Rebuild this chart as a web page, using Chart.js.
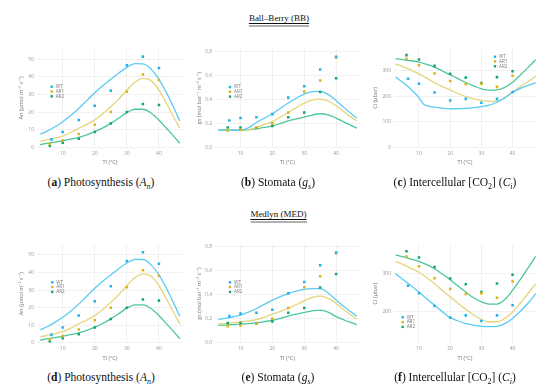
<!DOCTYPE html>
<html><head><meta charset="utf-8">
<script src="https://cdn.jsdelivr.net/npm/chart.js@4.4.0/dist/chart.umd.min.js"></script>
<style>
html,body{margin:0;padding:0;background:#fff;width:550px;height:392px;overflow:hidden;}
body{position:relative;font-family:"Liberation Serif","DejaVu Serif",serif;color:#111;}
canvas{position:absolute;}
.hd{position:absolute;font-size:9px;line-height:10px;white-space:nowrap;transform:translateX(-50%);text-decoration:underline;text-underline-offset:1.5px;text-decoration-thickness:0.6px;}
.hd:after{content:"";position:absolute;left:0;right:0;bottom:-3.5px;height:1.4px;background:#b0b0b0;}
.cap{position:absolute;font-size:11.5px;line-height:13px;white-space:nowrap;transform:translateX(-50%);}
.cap sub{font-size:8px;}
</style>
</head><body>
<div class="hd" style="left:279px;top:13px;">Ball–Berry (BB)</div>
<div class="hd" style="left:278.5px;top:209px;">Medlyn (MED)</div>
<canvas id="pa" width="190" height="132" style="left:0px;top:38px"></canvas>
<canvas id="pb" width="180" height="132" style="left:185px;top:38px"></canvas>
<canvas id="pc" width="188" height="132" style="left:362px;top:38px"></canvas>
<canvas id="pd" width="190" height="132" style="left:0px;top:233px"></canvas>
<canvas id="pe" width="180" height="132" style="left:185px;top:233px"></canvas>
<canvas id="pf" width="188" height="132" style="left:362px;top:233px"></canvas>
<div class="cap" style="left:101px;top:176px;">(<b>a</b>) Photosynthesis (<i>A</i><sub><i>n</i></sub>)</div>
<div class="cap" style="left:278px;top:176px;">(<b>b</b>) Stomata (<i>g</i><sub><i>s</i></sub>)</div>
<div class="cap" style="left:455px;top:176px;">(<b>c</b>) Intercellular [CO<sub>2</sub>] (<i>C</i><sub><i>i</i></sub>)</div>
<div class="cap" style="left:101px;top:370.5px;">(<b>d</b>) Photosynthesis (<i>A</i><sub><i>n</i></sub>)</div>
<div class="cap" style="left:278px;top:370.5px;">(<b>e</b>) Stomata (<i>g</i><sub><i>s</i></sub>)</div>
<div class="cap" style="left:455px;top:370.5px;">(<b>f</b>) Intercellular [CO<sub>2</sub>] (<i>C</i><sub><i>i</i></sub>)</div>
<script>
// ---------- data ----------
const seriesNames = ['WT', 'AR1', 'AR2'];
const xTicks = [10, 20, 30, 40];
const anTicks = [0, 10, 20, 30, 40, 50];
const gsTicks = [0, 0.2, 0.4, 0.6, 0.8];
const ciTicksBB = [0, 100, 200, 300];
const ciTicksMED = [200, 300];

// observed leaf temperatures (°C)
const tObsWT = [6.5, 10, 15, 20, 25, 30, 35, 40];
const tObsAR1 = [6.0, 10, 15, 20, 25, 30, 35, 40];
const tObsAR2 = [6.0, 10, 15, 20, 25, 30, 35, 40];

// observed An
const anObsWT = [4.5, 8.7, 15.5, 23.6, 32.2, 46.6, 51.5, 45.0];
const anObsAR1 = [1.9, 3.8, 7.6, 12.8, 20.0, 31.6, 41.3, 38.2];
const anObsAR2 = [0.7, 2.6, 4.9, 8.7, 13.6, 20.0, 24.6, 24.0];
// observed gs
const gsObsWT = [0.223, 0.243, 0.25, 0.276, 0.413, 0.507, 0.647, 0.753];
const gsObsAR1 = [0.139, 0.145, 0.164, 0.2, 0.29, 0.463, 0.555, 0.747];
const gsObsAR2 = [0.164, 0.164, 0.16, 0.178, 0.25, 0.29, 0.46, 0.574];
// observed Ci
const ciObsWT = [268, 248, 214, 183, 189, 174, 189, 216];
const ciObsAR1 = [346, 320, 288, 259, 246, 248, 236, 279];
const ciObsAR2 = [360, 343, 318, 287, 272, 251, 274, 297];

// model temperatures
const tMod = [3, 5, 7.5, 10, 12.5, 15, 17.5, 20, 22.5, 25, 27.5, 30, 32.5, 35, 37.5, 40, 42.5, 44.5, 46.5];
const tModCi = [2.5, 5, 7.5, 10, 12.5, 15, 17.5, 20, 22.5, 25, 27.5, 30, 32.5, 35, 37.5, 40, 42.5, 45, 47.4];
const tModCiBBWT = [2.5, 5, 7.5, 10, 11.5, 13, 15, 17.5, 20, 22.5, 25, 27.5, 30, 32.5, 35, 37.5, 40, 42.5, 45, 47.4];

// modelled An (same in BB and MED)
const anModWT = [7.4, 9.0, 11.5, 14.5, 18.0, 22.0, 26.5, 31.0, 35.0, 38.6, 42.2, 45.4, 47.5, 47.4, 44.5, 38.6, 30.5, 23.0, 15.0];
const anModAR1 = [3.4, 4.2, 5.2, 6.4, 8.4, 10.8, 13.0, 15.5, 19.0, 23.0, 27.5, 32.5, 37.0, 39.2, 38.0, 32.5, 24.5, 17.5, 10.8];
const anModAR2 = [1.5, 2.2, 2.9, 3.8, 4.6, 5.7, 7.1, 8.9, 11.0, 13.6, 16.6, 19.7, 21.6, 21.6, 19.5, 15.5, 10.5, 6.5, 2.3];

// modelled gs, Ball–Berry
const gsBBWT = [0.142, 0.142, 0.142, 0.142, 0.162, 0.206, 0.243, 0.279, 0.323, 0.368, 0.408, 0.443, 0.463, 0.465, 0.44, 0.39, 0.33, 0.285, 0.243];
const gsBBAR1 = [0.142, 0.142, 0.142, 0.142, 0.146, 0.167, 0.19, 0.214, 0.25, 0.29, 0.33, 0.368, 0.392, 0.40, 0.385, 0.345, 0.295, 0.255, 0.22];
const gsBBAR2 = [0.142, 0.142, 0.142, 0.142, 0.145, 0.155, 0.165, 0.178, 0.198, 0.22, 0.236, 0.25, 0.268, 0.279, 0.27, 0.243, 0.21, 0.185, 0.159];
// modelled gs, Medlyn
const gsMEDWT = [0.194, 0.203, 0.215, 0.23, 0.255, 0.286, 0.32, 0.356, 0.385, 0.41, 0.43, 0.445, 0.452, 0.452, 0.415, 0.356, 0.3, 0.26, 0.222];
const gsMEDAR1 = [0.155, 0.16, 0.166, 0.174, 0.183, 0.194, 0.214, 0.238, 0.262, 0.286, 0.318, 0.35, 0.378, 0.389, 0.37, 0.328, 0.275, 0.235, 0.2];
const gsMEDAR2 = [0.146, 0.148, 0.151, 0.155, 0.16, 0.166, 0.176, 0.188, 0.204, 0.222, 0.238, 0.253, 0.266, 0.272, 0.255, 0.218, 0.19, 0.17, 0.152];

// modelled Ci, Ball–Berry
const ciBBWT = [274, 252, 226, 194, 168, 161, 157, 153, 150, 151, 152, 155, 159, 165, 176, 193, 214, 230, 242, 252];
const ciBBAR1 = [325, 314, 301, 287, 270, 252, 237, 224, 210, 198, 189, 183, 179, 180, 194, 216, 237, 257, 278];
const ciBBAR2 = [346, 342, 338, 333, 324, 313, 298, 283, 268, 253, 240, 228, 223, 224, 234, 254, 282, 312, 342];
// modelled Ci, Medlyn
const ciMEDWT = [300, 284, 268, 251, 233, 216, 199, 183, 174, 167, 163, 160, 159, 160, 167, 181, 200, 222, 247];
const ciMEDAR1 = [333, 324, 314, 304, 289, 273, 255, 238, 221, 205, 190, 178, 172, 172, 181, 198, 222, 248, 273];
const ciMEDAR2 = [350, 345, 339, 333, 324, 313, 299, 284, 267, 251, 236, 225, 219, 219, 231, 256, 285, 316, 346];

// ---------- styles ----------
const pointColors = ['#1db4ee', '#d9b614', '#13a873'];
const lineColors = ['#5acbf3', '#e6d47a', '#4cc69b'];
const tickFont = {family: 'Open Sans', size: 5};
const titleFont = {family: 'Open Sans', size: 5.5};

const pairs = (xs, ys) => xs.map((x, i) => ({x: x, y: ys[i]}));

const insideLegend = {
  id: 'insideLegend',
  afterDatasetsDraw(chart, args, o) {
    if (!o || o.dx === undefined) return;
    const {ctx, chartArea} = chart;
    ctx.save();
    ctx.font = '4.6px "Open Sans"';
    ctx.textBaseline = 'middle';
    seriesNames.forEach((name, i) => {
      const x = chartArea.left + o.dx, y = chartArea.top + o.dy + i * 4.8;
      ctx.fillStyle = pointColors[i];
      ctx.fillRect(x - 1.2, y - 1.2, 2.4, 2.4);
      ctx.fillStyle = '#777';
      ctx.fillText(name, x + 4, y);
    });
    ctx.restore();
  }
};

function makePanel(id, c) {
  const ds = [];
  c.obs.forEach((o, i) => ds.push({
    type: 'scatter', label: seriesNames[i], data: pairs(o[0], o[1]),
    pointStyle: 'rect', pointRadius: 1.8, backgroundColor: pointColors[i], borderWidth: 0
  }));
  c.mod.forEach((m, i) => ds.push({
    type: 'line', label: seriesNames[i] + ' model', data: pairs(m[0], m[1]),
    borderColor: lineColors[i], borderWidth: 1.3, pointRadius: 0, fill: false,
    cubicInterpolationMode: 'monotone'
  }));
  new Chart(document.getElementById(id), {
    type: 'scatter',
    data: {datasets: ds},
    plugins: [insideLegend],
    options: {
      responsive: false, animation: false, devicePixelRatio: 1,
      layout: {padding: {left: 0, top: c.padTop, right: c.padRight, bottom: 0}},
      plugins: {legend: {display: false}, tooltip: {enabled: false}, insideLegend: c.legend},
      scales: {
        x: {
          type: 'linear', min: 2, max: 47.5,
          afterBuildTicks: s => { s.ticks = xTicks.map(v => ({value: v})); },
          afterFit: s => { s.height = c.xh; },
          grid: {color: '#ebebeb', lineWidth: 0.7, drawTicks: false},
          border: {display: false},
          ticks: {font: tickFont, color: '#999', padding: 3.2, maxRotation: 0, autoSkip: false},
          title: {display: true, text: 'Tl (°C)', font: titleFont, color: '#777', padding: {top: 0, bottom: c.xtp}}
        },
        y: {
          type: 'linear', min: c.ymin, max: c.ymax,
          afterBuildTicks: s => { s.ticks = c.yt.map(v => ({value: v})); },
          afterFit: s => { s.width = c.yw; },
          grid: {color: '#ebebeb', lineWidth: 0.7, drawTicks: false},
          border: {display: false},
          ticks: {font: tickFont, color: '#999', padding: 3, autoSkip: false,
                  callback: v => c.fmt ? v.toFixed(1) : String(v)},
          title: {display: true, text: c.ytitle, font: titleFont, color: '#777', padding: {top: c.ytp, bottom: 0}}
        }
      }
    }
  });
}

const anObs = [[tObsWT, anObsWT], [tObsAR1, anObsAR1], [tObsAR2, anObsAR2]];
const gsObs = [[tObsWT, gsObsWT], [tObsAR1, gsObsAR1], [tObsAR2, gsObsAR2]];
const ciObs = [[tObsWT, ciObsWT], [tObsAR1, ciObsAR1], [tObsAR2, ciObsAR2]];
const anMod = [[tMod, anModWT], [tMod, anModAR1], [tMod, anModAR2]];

const row1 = {padTop: 10.7, xh: 22.7, xtp: 4.1};
const row2 = {padTop: 11.4, xh: 22.2, xtp: 3.7};
const colA = {padRight: 7, yw: 37, ytp: 17.7, ymin: 0, ymax: 56, yt: anTicks, ytitle: 'An (µmol m⁻² s⁻¹)'};
const colB = {padRight: 5, yw: 30, ytp: 11, ymin: 0, ymax: 0.82, yt: gsTicks, fmt: true, ytitle: 'gs (mol bar⁻¹ m⁻² s⁻¹)'};
const colC = {padRight: 14, yw: 32, ytp: 9.7, ytitle: 'Ci (µbar)'};

makePanel('pa', Object.assign({}, row1, colA, {obs: anObs, mod: anMod, legend: {dx: 14.7, dy: 38}}));
makePanel('pb', Object.assign({}, row1, colB, {obs: gsObs,
  mod: [[tMod, gsBBWT], [tMod, gsBBAR1], [tMod, gsBBAR2]], legend: {dx: 15, dy: 38.3}}));
makePanel('pc', Object.assign({}, row1, colC, {ymin: 0, ymax: 385, yt: ciTicksBB, obs: ciObs,
  mod: [[tModCiBBWT, ciBBWT], [tModCi, ciBBAR1], [tModCi, ciBBAR2]], legend: {dx: 101, dy: 8}}));
makePanel('pd', Object.assign({}, row2, colA, {obs: anObs, mod: anMod, legend: {dx: 15.3, dy: 37.9}}));
makePanel('pe', Object.assign({}, row2, colB, {obs: gsObs,
  mod: [[tMod, gsMEDWT], [tMod, gsMEDAR1], [tMod, gsMEDAR2]], legend: {dx: 15, dy: 37.9}}));
makePanel('pf', Object.assign({}, row2, colC, {ymin: 116, ymax: 378, yt: ciTicksMED, obs: ciObs,
  mod: [[tModCi, ciMEDWT], [tModCi, ciMEDAR1], [tModCi, ciMEDAR2]], legend: {dx: 8.7, dy: 72.9}}));
</script>
</body></html>
